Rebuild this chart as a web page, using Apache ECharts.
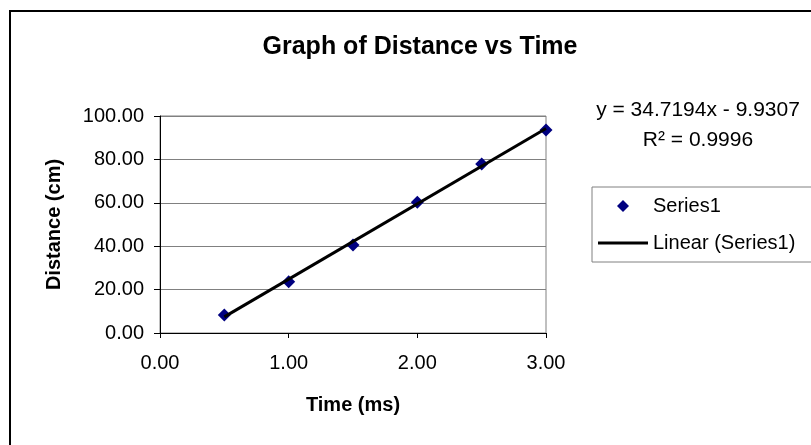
<!DOCTYPE html>
<html>
<head>
<meta charset="utf-8">
<script src="https://cdn.jsdelivr.net/npm/echarts@6/dist/echarts.min.js"></script>
<style>
  html, body { margin: 0; padding: 0; background: #fff; }
  #chart { width: 811px; height: 445px; }
</style>
</head>
<body>
<div id="chart"></div>
<script>
// measured values (time in ms, distance in cm)
var timeValues = [0.5, 1.0, 1.5, 2.0, 2.5, 3.0];
var distanceValues = [8.3, 23.6, 40.5, 60.2, 77.9, 93.6];

// Excel linear trendline end points (y = 34.7194x - 9.9307)
var trendX = [0.5, 3.0];
var trendY = [7.43, 94.23];

var equationText = 'y = 34.7194x - 9.9307';
var rSquaredText = 'R\u00B2 = 0.9996';

var font = '"Liberation Sans", Arial, sans-serif';

var chart = echarts.init(document.getElementById('chart'));

var option = {
  backgroundColor: '#ffffff',
  animation: false,
  title: {
    text: 'Graph of Distance vs Time',
    left: 415,
    top: 30,
    textAlign: 'center',
    textStyle: { fontFamily: font, fontSize: 25, fontWeight: 'bold', color: '#000' }
  },
  legend: {
    left: 592,
    top: 187,
    orient: 'vertical',
    itemWidth: 50,
    itemHeight: 12,
    itemGap: 17,
    padding: [9, 30, 9, 6],
    borderColor: '#808080',
    borderWidth: 1,
    textStyle: { fontFamily: font, fontSize: 20, color: '#000' },
    data: [
      { name: 'Series1', icon: 'path://M0,-1L1,0L0,1L-1,0Z' },
      { name: 'Linear (Series1)', icon: 'path://M0,0L50,0L50,3L0,3Z', itemStyle: { color: '#000' } }
    ]
  },
  grid: {
    left: 160,
    top: 116,
    width: 386,
    height: 217,
    show: true,
    borderColor: '#808080',
    borderWidth: 1
  },
  xAxis: {
    type: 'value',
    min: 0,
    max: 3,
    interval: 1,
    name: 'Time (ms)',
    nameLocation: 'middle',
    nameGap: 62,
    nameTextStyle: { fontFamily: font, fontSize: 20, fontWeight: 'bold', color: '#000' },
    axisLine: { show: true, lineStyle: { color: '#000', width: 1 } },
    axisTick: { show: true, length: 5, lineStyle: { color: '#000' } },
    splitLine: { show: false },
    axisLabel: {
      margin: 20,
      fontFamily: font,
      fontSize: 20,
      color: '#000',
      formatter: function (v) { return v.toFixed(2); }
    }
  },
  yAxis: {
    type: 'value',
    min: 0,
    max: 100,
    interval: 20,
    name: 'Distance (cm)',
    nameLocation: 'middle',
    nameGap: 96,
    nameRotate: 90,
    nameTextStyle: { fontFamily: font, fontSize: 20, fontWeight: 'bold', color: '#000' },
    axisLine: { show: true, lineStyle: { color: '#000', width: 1 } },
    axisTick: { show: true, length: 6, lineStyle: { color: '#000' } },
    splitLine: { show: true, lineStyle: { color: '#808080', width: 1 } },
    axisLabel: {
      margin: 16,
      fontFamily: font,
      fontSize: 20,
      color: '#000',
      formatter: function (v) { return v.toFixed(2); }
    }
  },
  graphic: [
    {
      type: 'rect',
      shape: { x: 10, y: 11, width: 900, height: 500 },
      style: { fill: 'none', stroke: '#000', lineWidth: 2 },
      silent: true
    },
    {
      type: 'text',
      x: 698,
      y: 110,
      style: {
        text: equationText,
        font: '21px ' + font,
        fill: '#000',
        align: 'center',
        verticalAlign: 'middle'
      }
    },
    {
      type: 'text',
      x: 698,
      y: 140,
      style: {
        text: rSquaredText,
        font: '21px ' + font,
        fill: '#000',
        align: 'center',
        verticalAlign: 'middle'
      }
    }
  ],
  series: [
    {
      name: 'Series1',
      type: 'scatter',
      symbol: 'diamond',
      symbolSize: 13,
      itemStyle: { color: '#000080', opacity: 1 },
      z: 2,
      data: timeValues.map(function (t, i) { return [t, distanceValues[i]]; })
    },
    {
      name: 'Linear (Series1)',
      type: 'line',
      symbol: 'none',
      showSymbol: false,
      lineStyle: { color: '#000', width: 3 },
      itemStyle: { color: '#000' },
      z: 3,
      data: trendX.map(function (t, i) { return [t, trendY[i]]; })
    }
  ]
};

chart.setOption(option);
</script>
</body>
</html>
